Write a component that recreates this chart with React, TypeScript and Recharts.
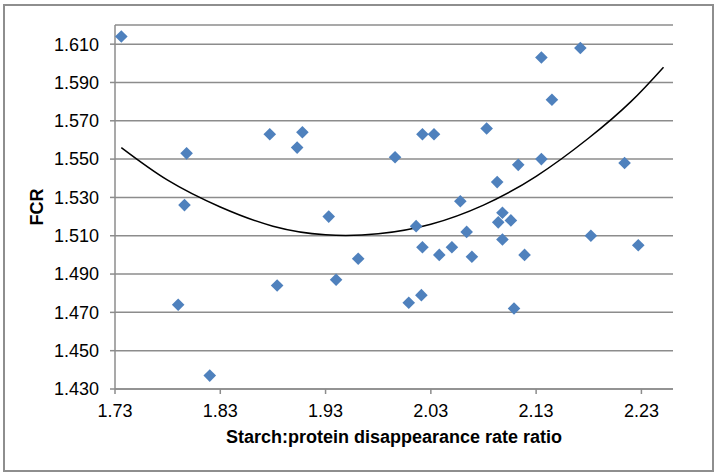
import { ComposedChart, Scatter, Line, XAxis, YAxis, CartesianGrid, Label } from 'recharts';

// Starch:protein disappearance rate ratio (x) vs FCR (y)
const RATIO = [
    1.736, 1.798, 1.796, 1.79, 1.82, 1.877, 1.884, 1.903, 1.908, 1.933,
    1.94, 1.961, 1.996, 2.009, 2.016, 2.021, 2.022, 2.022, 2.033, 2.038,
    2.05, 2.058, 2.064, 2.069, 2.083, 2.093, 2.094, 2.098, 2.098, 2.106,
    2.109, 2.113, 2.119, 2.135, 2.135, 2.145, 2.172, 2.182, 2.214, 2.227,
];
const FCR = [
    1.614, 1.553, 1.526, 1.474, 1.437, 1.563, 1.484, 1.556, 1.564, 1.52,
    1.487, 1.498, 1.551, 1.475, 1.515, 1.479, 1.504, 1.563, 1.563, 1.5,
    1.504, 1.528, 1.512, 1.499, 1.566, 1.538, 1.517, 1.522, 1.508, 1.518,
    1.472, 1.547, 1.5, 1.603, 1.55, 1.581, 1.608, 1.51, 1.548, 1.505,
];

// polynomial trendline
const TREND_X = [1.736, 1.78, 1.83, 1.88, 1.93, 1.98, 2.03, 2.08, 2.13, 2.18, 2.22, 2.251];
const TREND_Y = [1.556, 1.539, 1.525, 1.515, 1.5105, 1.511, 1.516, 1.526, 1.541, 1.561, 1.58, 1.598];

const X_TICKS = [1.73, 1.83, 1.93, 2.03, 2.13, 2.23];
const Y_TICKS = [1.43, 1.45, 1.47, 1.49, 1.51, 1.53, 1.55, 1.57, 1.59, 1.61];

const points = RATIO.map((x, i) => ({ x, y: FCR[i] }));
const trend = TREND_X.map((x, i) => ({ x, y: TREND_Y[i] }));

const FONT = '"Liberation Sans", Arial, sans-serif';
const GRID = '#8c8c8c';

const Diamond = (props: any) => {
    const { cx, cy } = props;
    const r = 6.3;
    return (
        <polygon
            points={`${cx},${cy - r} ${cx + r},${cy} ${cx},${cy + r} ${cx - r},${cy}`}
            fill="#4f81bd"
        />
    );
};

export default function App() {
    return (
        <div style={{ position: 'absolute', left: 0, top: 0, width: 716, height: 475, background: '#fff' }}>
            <div
                style={{
                    position: 'absolute', left: 3, top: 4, width: 707, height: 464,
                    border: '2px solid #8e8e8e',
                }}
            />
            <div style={{ position: 'absolute', left: 0, top: 0 }}>
                <ComposedChart
                    width={716}
                    height={475}
                    margin={{ top: 25, right: 43, bottom: 0, left: 0 }}
                    style={{ fontFamily: FONT }}
                >
                    <CartesianGrid vertical={false} stroke={GRID} strokeWidth={1.5} />
                    <XAxis
                        type="number"
                        dataKey="x"
                        domain={[1.73, 2.26]}
                        ticks={X_TICKS}
                        allowDataOverflow
                        height={86}
                        tickSize={5}
                        tickMargin={10}
                        stroke={GRID}
                        strokeWidth={1.5}
                        tick={{ fill: '#000', fontSize: 18, fontFamily: FONT }}
                        tickFormatter={(v: number) => v.toFixed(2)}
                    >
                        <Label
                            value="Starch:protein disappearance rate ratio"
                            position="insideBottom"
                            offset={32}
                            style={{ fontWeight: 'bold', fontSize: 18, fill: '#000', fontFamily: FONT }}
                        />
                    </XAxis>
                    <YAxis
                        type="number"
                        dataKey="y"
                        domain={[1.43, 1.62]}
                        ticks={Y_TICKS}
                        allowDataOverflow
                        width={115}
                        tickSize={5}
                        tickMargin={11}
                        stroke={GRID}
                        strokeWidth={1.5}
                        tick={{ fill: '#000', fontSize: 18, fontFamily: FONT }}
                        tickFormatter={(v: number) => v.toFixed(3)}
                    >
                        <Label
                            content={({ viewBox }: any) => {
                                const cx = viewBox.x + 37;
                                const cy = viewBox.y + viewBox.height / 2;
                                return (
                                    <text
                                        x={cx}
                                        y={cy}
                                        transform={`rotate(-90 ${cx} ${cy})`}
                                        textAnchor="middle"
                                        dominantBaseline="central"
                                        style={{ fontWeight: 'bold', fontSize: 18, fill: '#000', fontFamily: FONT }}
                                    >
                                        FCR
                                    </text>
                                );
                            }}
                        />
                    </YAxis>
                    <Scatter data={points} shape={Diamond} isAnimationActive={false} />
                    <Line
                        data={trend}
                        dataKey="y"
                        type="natural"
                        stroke="#000"
                        strokeWidth={1.5}
                        dot={false}
                        activeDot={false}
                        isAnimationActive={false}
                    />
                </ComposedChart>
            </div>
        </div>
    );
}
